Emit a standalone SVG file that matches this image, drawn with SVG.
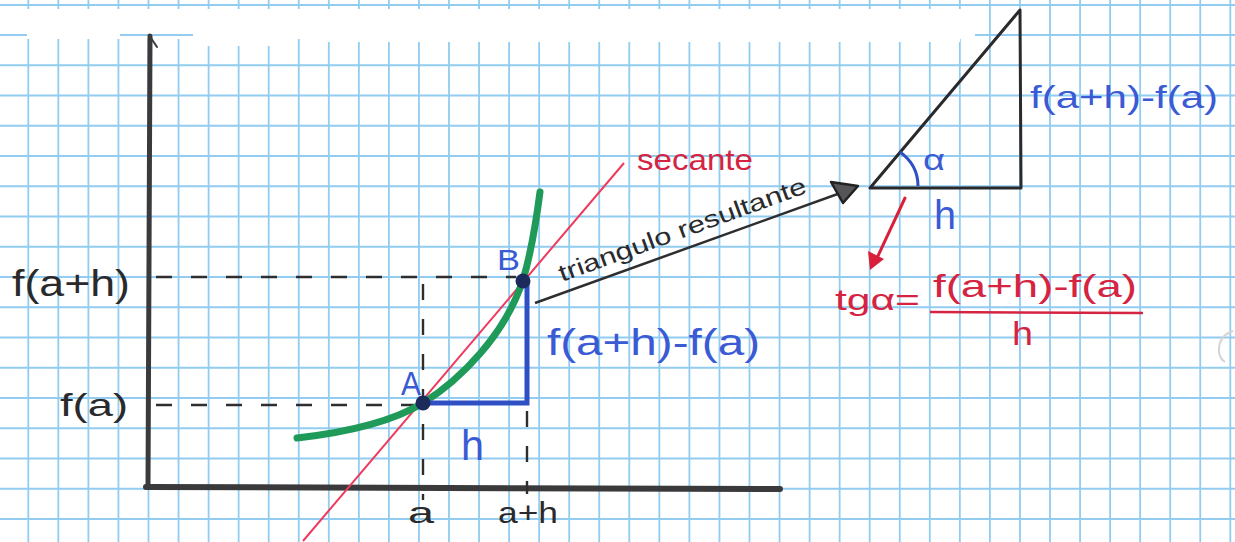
<svg xmlns="http://www.w3.org/2000/svg" width="1235" height="542" viewBox="0 0 1235 542">
<style>
.grid{stroke:#92ccf0;stroke-width:1.8;fill:none}
.ink{stroke:#3a3a3d;fill:none;stroke-linecap:round}
.dash{stroke:#2e2e30;stroke-width:2.4;stroke-dasharray:16 19;fill:none}
.hand{font-family:"Liberation Sans","DejaVu Sans",sans-serif;font-weight:normal}
.blk{fill:#2a2a2c}
.blu{fill:#3a5bd4}
.red{fill:#d52442}
</style>
<rect x="0" y="0" width="1235" height="542" fill="#ffffff"/>
<g id="paper">
<path class="grid" d="M28.3 0V542M58.35 0V542M88.4 0V542M118.45 0V542M148.5 0V542M178.55 0V542M208.6 0V542M238.65 0V542M268.7 0V542M298.75 0V542M328.8 0V542M358.85 0V542M388.9 0V542M418.95 0V542M449 0V542M479.05 0V542M509.1 0V542M539.15 0V542M569.2 0V542M599.25 0V542M629.3 0V542M659.35 0V542M689.4 0V542M719.45 0V542M749.5 0V542M779.55 0V542M809.6 0V542M839.65 0V542M869.7 0V542M899.75 0V542M929.8 0V542M959.85 0V542M989.9 0V542M1019.95 0V542M1050 0V542M1080.05 0V542M1110.1 0V542M1140.15 0V542M1170.2 0V542M1200.25 0V542M1230.3 0V542"/>
<path class="grid" d="M0 5H1235M0 35H1235M0 65.25H1235M0 95.5H1235M0 125.75H1235M0 156H1235M0 186.25H1235M0 216.5H1235M0 246.75H1235M0 277H1235M0 307.25H1235M0 337.5H1235M0 367.75H1235M0 398H1235M0 428.25H1235M0 458.5H1235M0 488.75H1235M0 519H1235"/>
<rect x="-5" y="9" width="980" height="30" fill="#ffffff"/>
<rect x="190" y="36" width="100" height="10" fill="#ffffff"/>
<rect x="300" y="36" width="660" height="6" fill="#ffffff"/>
<path class="grid" d="M0 35H27M120 35H193"/>
<path d="M1233 331Q1218 336 1219 352Q1220 359 1225 362" stroke="#d4d4d4" stroke-width="2" fill="none"/>
</g>
<g id="axes">
<path class="ink" d="M150 36L148 487" stroke-width="5"/>
<path class="ink" d="M151 38L157 47" stroke-width="2"/>
<path class="ink" d="M146 487L780 489" stroke-width="6"/>
</g>
<g id="guides">
<path class="dash" d="M156 277H516"/>
<path class="dash" d="M156 405H414"/>
<path class="dash" d="M423 284V500"/>
<path class="dash" d="M527 411V494"/>
</g>
<g id="secant">
<path d="M303 541L624 163" stroke="#ee3a5c" stroke-width="2" fill="none"/>
<text class="hand red" x="637" y="170" font-size="30" textLength="116" lengthAdjust="spacingAndGlyphs">secante</text>
</g>
<g id="curve">
<path d="M297 438C350 432 395 420 423 403C460 380 505 335 523 280C532 250 537 215 540 192" stroke="#1f9a58" stroke-width="7" fill="none" stroke-linecap="round"/>
</g>
<g id="increment">
<path d="M423 403H527V282" stroke="#2f4fc4" stroke-width="5" fill="none"/>
<text class="hand blu" x="461" y="460" font-size="42" textLength="23" lengthAdjust="spacingAndGlyphs">h</text>
<text class="hand blu" x="547" y="355" font-size="36" textLength="213" lengthAdjust="spacingAndGlyphs">f(a+h)-f(a)</text>
</g>
<g id="pointA">
<circle cx="423" cy="403" r="7.5" fill="#1c2a5c"/>
<text class="hand blu" x="401" y="395" font-size="34" textLength="20" lengthAdjust="spacingAndGlyphs">A</text>
</g>
<g id="pointB">
<circle cx="523" cy="281" r="7.5" fill="#1c2a5c"/>
<text class="hand blu" x="497" y="270" font-size="30" textLength="23" lengthAdjust="spacingAndGlyphs">B</text>
</g>
<g id="labels">
<text class="hand blk" x="12" y="296" font-size="36" textLength="118" lengthAdjust="spacingAndGlyphs">f(a+h)</text>
<text class="hand blk" x="60" y="416" font-size="32" textLength="68" lengthAdjust="spacingAndGlyphs">f(a)</text>
<text class="hand blk" x="408" y="523" font-size="30" textLength="26" lengthAdjust="spacingAndGlyphs">a</text>
<text class="hand blk" x="498" y="523" font-size="30" textLength="60" lengthAdjust="spacingAndGlyphs">a+h</text>
</g>
<g id="connector">
<path d="M535 303L846 191" stroke="#2e2e30" stroke-width="2.5" fill="none"/>
<polygon points="831,182 858,186 843,203" fill="#555558" stroke="#222" stroke-width="2.5" stroke-linejoin="round"/>
<text class="hand blk" transform="translate(562 282) rotate(-20)" x="0" y="0" font-size="24" textLength="262" lengthAdjust="spacingAndGlyphs">triangulo resultante</text>
</g>
<g id="triangle">
<polygon points="870,188 1021,188 1020,10" fill="none" stroke="#2a2a2c" stroke-width="3" stroke-linejoin="round"/>
<path d="M900 152Q918 165 918 186" stroke="#2f4fc4" stroke-width="3" fill="none"/>
<text class="hand blu" x="923" y="170" font-size="30" textLength="22" lengthAdjust="spacingAndGlyphs">α</text>
<text class="hand blu" x="934" y="229" font-size="40" textLength="22" lengthAdjust="spacingAndGlyphs">h</text>
<text class="hand blu" x="1030" y="108" font-size="32" textLength="188" lengthAdjust="spacingAndGlyphs">f(a+h)-f(a)</text>
</g>
<g id="formula">
<path d="M905 198L877 258" stroke="#d8203a" stroke-width="3" fill="none" stroke-linecap="round"/>
<polygon points="868,251 884,259 870,270" fill="#d8203a"/>
<text class="hand red" x="835" y="310" font-size="30" textLength="85" lengthAdjust="spacingAndGlyphs">tgα=</text>
<text class="hand red" x="933" y="297" font-size="32" textLength="204" lengthAdjust="spacingAndGlyphs">f(a+h)-f(a)</text>
<path d="M930 312L1143 313" stroke="#d52442" stroke-width="2.5" fill="none"/>
<text class="hand red" x="1012" y="345" font-size="34" textLength="21" lengthAdjust="spacingAndGlyphs">h</text>
</g>
</svg>
